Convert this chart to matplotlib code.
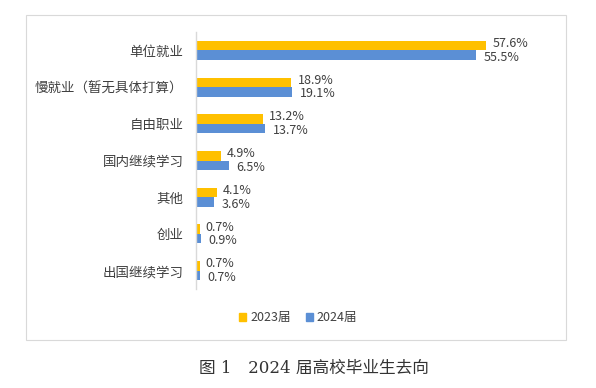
import matplotlib
matplotlib.use('Agg')
import matplotlib.pyplot as plt
from matplotlib.patches import Patch, Rectangle

plt.rcParams['font.family'] = ['Noto Sans CJK SC', 'DejaVu Sans']

categories = ['单位就业', '慢就业（暂无具体打算）', '自由职业', '国内继续学习', '其他', '创业', '出国继续学习']
values_2023 = [57.6, 18.9, 13.2, 4.9, 4.1, 0.7, 0.7]
values_2024 = [55.5, 19.1, 13.7, 6.5, 3.6, 0.9, 0.7]
series_names = ['2023届', '2024届']
caption = '图 1\u30002024 届高校毕业生去向'

yellow = '#FFC000'
blue = '#5B8FD5'
text_gray = '#404040'

fig = plt.figure(figsize=(5.96, 3.88), dpi=100)

# chart frame
fig.patches.append(Rectangle((26 / 596, 1 - 340 / 388), 540 / 596, 325 / 388,
                             transform=fig.transFigure, fill=False,
                             edgecolor='#D9D9D9', linewidth=0.8))

ax = fig.add_axes([196 / 596, 99 / 388, 353 / 596, 257 / 388])

pos = list(range(len(categories)))
h = 0.26
ax.barh([p - h / 2 for p in pos], values_2023, height=h, color=yellow, label=series_names[0])
ax.barh([p + h / 2 for p in pos], values_2024, height=h, color=blue, label=series_names[1])

for p, v in zip(pos, values_2023):
    ax.annotate(f'{v}%', (v, p - h / 2), xytext=(4.5, 1.5), textcoords='offset points',
                va='center', ha='left', fontsize=9, color=text_gray)
for p, v in zip(pos, values_2024):
    ax.annotate(f'{v}%', (v, p + h / 2), xytext=(5.5, -1.5), textcoords='offset points',
                va='center', ha='left', fontsize=9, color=text_gray)

ax.set_xlim(0, 70)
ax.set_ylim(len(categories) - 0.5, -0.5)
ax.set_yticks(pos)
ax.set_yticklabels(categories, fontsize=9.7, color=text_gray)
ax.tick_params(axis='y', length=0, pad=9)
ax.set_xticks([])
for s in ['top', 'right', 'bottom']:
    ax.spines[s].set_visible(False)
ax.spines['left'].set_color('#D9D9D9')
ax.spines['left'].set_linewidth(1.0)

handles = [Patch(color=yellow), Patch(color=blue)]
fig.legend(handles, series_names, loc='center', bbox_to_anchor=(298 / 596, 1 - 318 / 388),
           ncol=2, frameon=False, fontsize=9, handlelength=0.6, handleheight=0.6,
           handletextpad=0.3, columnspacing=1.2, labelcolor=text_gray)

fig.text(314 / 596, 1 - 368 / 388, caption, ha='center', va='center', fontsize=12,
         color='#333333', family=['DejaVu Serif', 'Noto Sans CJK SC'])

fig.savefig('out.png', dpi=100)
